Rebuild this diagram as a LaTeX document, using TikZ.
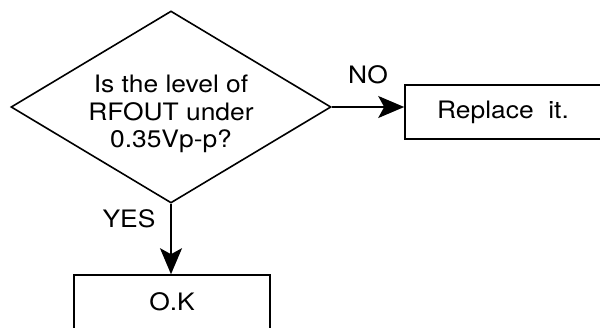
\documentclass[tikz,border=0pt]{standalone}
\usepackage{fontspec}
\setmainfont[FakeStretch=1.1]{TeX Gyre Heros}
\usetikzlibrary{shapes.geometric,arrows.meta}

\tikzset{
    question/.style={diamond,draw,line width=1.6pt,inner sep=0pt,
        minimum width=320pt,minimum height=192pt},
    result/.style={rectangle,draw,line width=1.6pt,
        minimum width=196pt,minimum height=54pt},
    arr/.style={line width=1.6pt,-{Stealth[length=26pt,width=22pt,inset=6pt]}}
}

\begin{document}
\begin{tikzpicture}[x=1pt,y=-1pt,font=\fontsize{24}{27.5}\selectfont]
    \useasboundingbox (0,0) rectangle (600,327);
    \clip (0,0) rectangle (600,327);
    \node[question] (q) at (171,107) {};
    \node[align=center] (qtext) at (171,114) {Is the level of\\RFOUT under\\0.35Vp-p?};
    \node[result] (fix) at (503,112) {Replace\ \ it.};
    \node[result] (ok) at (172,302) {O.K};
    \draw[arr] (q.east) -- (q.east -| fix.west);
    \draw[arr] (q.south) -- (q.south |- ok.north);
    \node (no) at (368,75) {NO};
    \node (yes) at (129,219) {YES};
\end{tikzpicture}
\end{document}
